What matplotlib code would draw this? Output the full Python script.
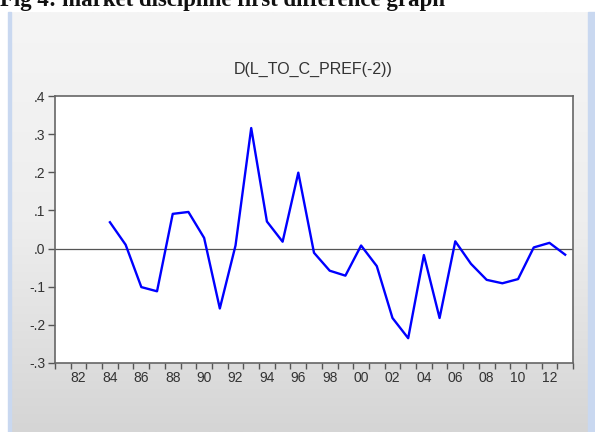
import numpy as np
import matplotlib
matplotlib.use("Agg")
import matplotlib.pyplot as plt
from matplotlib.patches import Rectangle

# data (annual first differences)
years = list(range(1984, 2014))
values = [0.069, 0.010, -0.101, -0.112, 0.091, 0.096, 0.028, -0.157, 0.008, 0.316,
          0.071, 0.018, 0.199, -0.011, -0.058, -0.071, 0.008, -0.046, -0.182, -0.235,
          -0.017, -0.182, 0.019, -0.040, -0.082, -0.091, -0.080, 0.003, 0.015, -0.016]
label_years = list(range(1982, 2013, 2))
y_ticks = [-0.3, -0.2, -0.1, 0.0, 0.1, 0.2, 0.3, 0.4]
y_labels = ["-.3", "-.2", "-.1", ".0", ".1", ".2", ".3", ".4"]

plt.rcParams["font.family"] = ["Liberation Sans", "DejaVu Sans"]

W, H = 595, 432
fig = plt.figure(figsize=(W / 100, H / 100), dpi=100)
fig.patch.set_facecolor("white")

# background panel with grey gradient and blue side borders
bg = fig.add_axes([0, 0, 1, 1])
bg.set_xlim(0, W)
bg.set_ylim(H, 0)
bg.axis("off")
grad = np.linspace(0, 1, 256).reshape(-1, 1)
cmap = matplotlib.colors.LinearSegmentedColormap.from_list("g", ["#f5f5f5", "#eeeeee", "#d5d5d5"])
bg.imshow(grad, extent=[11, 588, H, 12], aspect="auto", cmap=cmap, zorder=0)
bg.add_patch(Rectangle((8, 12), 3, H - 12, color="#c9d8f0", zorder=1))
bg.add_patch(Rectangle((588, 12), 7, H - 12, color="#c9d8f0", zorder=1))

# document caption, cropped at the top edge as in the screenshot
bg.text(0, 6, "Fig 4: market discipline first difference graph", family="Liberation Serif",
        fontweight="bold", fontsize=16.5, ha="left", va="baseline", color="#111111")

bg.text(313, 69, "D(L_TO_C_PREF(-2))", fontsize=11.5, ha="center", va="center", color="#333333")

ax = fig.add_axes([55 / W, 1 - 363 / H, (573 - 55) / W, (363 - 96) / H])
ax.set_facecolor("white")
ax.plot(years, values, color="#0000ff", lw=1.7)
ax.axhline(0, color="#555555", lw=0.9, zorder=1)

ax.set_xlim(1980.5, 2013.5)
ax.set_ylim(-0.3, 0.4)
ax.set_yticks(y_ticks)
ax.set_yticklabels(y_labels)
ax.set_xticks(label_years)
ax.set_xticklabels(["%02d" % (y % 100) for y in label_years])
ax.set_xticks(np.arange(1980.5, 2014, 1.0), minor=True)
ax.tick_params(axis="x", which="major", length=0, pad=6, labelsize=10, colors="#333333")
ax.tick_params(axis="x", which="minor", length=4, width=1, color="#555555", direction="out")
ax.tick_params(axis="y", length=5, width=1, color="#555555", labelsize=10, labelcolor="#333333", pad=2)
for s in ax.spines.values():
    s.set_color("#666666")
    s.set_linewidth(1.2)

fig.savefig("out.png", dpi=100)
